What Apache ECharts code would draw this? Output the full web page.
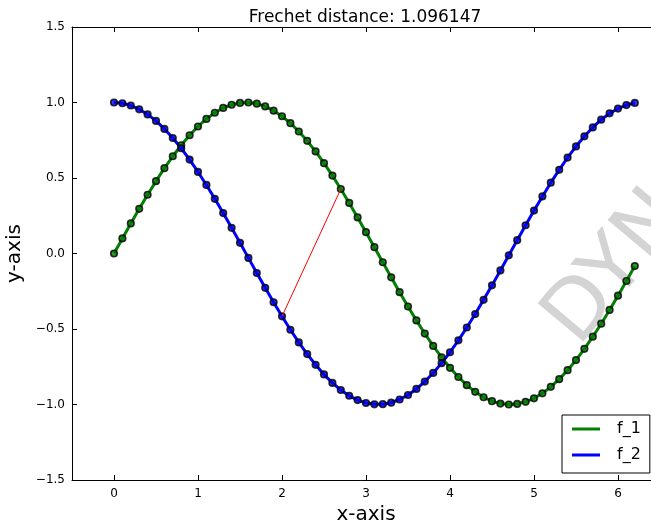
<!DOCTYPE html>
<html>
<head>
<meta charset="utf-8">
<script src="https://cdn.jsdelivr.net/npm/echarts@6/dist/echarts.min.js"></script>
<style>
html,body{margin:0;padding:0;background:#fff;}
#chart{width:651px;height:524px;}
</style>
</head>
<body>
<div id="chart"></div>
<script>
// ---- data ----
const xValues = [0.0,0.1,0.2,0.3,0.4,0.5,0.6,0.7,0.8,0.9,1.0,1.1,1.2,1.3,1.4,1.5,1.6,1.7,1.8,1.9,2.0,2.1,2.2,2.3,2.4,2.5,2.6,2.7,2.8,2.9,3.0,3.1,3.2,3.3,3.4,3.5,3.6,3.7,3.8,3.9,4.0,4.1,4.2,4.3,4.4,4.5,4.6,4.7,4.8,4.9,5.0,5.1,5.2,5.3,5.4,5.5,5.6,5.7,5.8,5.9,6.0,6.1,6.2];
const f1Values = [0.000,0.100,0.199,0.296,0.389,0.479,0.565,0.644,0.717,0.783,0.841,0.891,0.932,0.964,0.985,0.997,1.000,0.992,0.974,0.946,0.909,0.863,0.808,0.746,0.676,0.598,0.516,0.427,0.335,0.239,0.141,0.042,-0.058,-0.158,-0.256,-0.351,-0.443,-0.530,-0.612,-0.688,-0.757,-0.818,-0.872,-0.916,-0.952,-0.978,-0.994,-1.000,-0.996,-0.982,-0.959,-0.926,-0.883,-0.832,-0.773,-0.706,-0.631,-0.551,-0.465,-0.374,-0.279,-0.182,-0.083];
const f2Values = [1.000,0.995,0.980,0.955,0.921,0.878,0.825,0.765,0.697,0.622,0.540,0.454,0.362,0.268,0.170,0.071,-0.029,-0.129,-0.227,-0.323,-0.416,-0.505,-0.589,-0.666,-0.737,-0.801,-0.857,-0.904,-0.942,-0.971,-0.990,-0.999,-0.998,-0.988,-0.967,-0.937,-0.897,-0.848,-0.791,-0.726,-0.654,-0.575,-0.490,-0.401,-0.307,-0.211,-0.112,-0.012,0.088,0.187,0.284,0.378,0.469,0.554,0.635,0.709,0.776,0.835,0.886,0.928,0.960,0.983,0.997];
const linkX = [2.0, 2.7];
const linkY = [-0.416, 0.427];
const xTicks = [0,1,2,3,4,5,6];
const seriesNames = ['f_1','f_2'];
const seriesColors = ['#008000','#0000ff'];
const titleText = 'Frechet distance: 1.096147';
const watermarkText = 'DYNAMIC';

const zip = (xs, ys) => xs.map((x, i) => [x, ys[i]]);
const FONT = 'DejaVu Sans';
const fmtY = v => v.toFixed(1).replace('-', '\u2212');

const chart = echarts.init(document.getElementById('chart'), null, {renderer:'canvas'});
const axisLineStyle = {color:'#000', width:1};

function lineSeries(name, ys, color) {
  return [
    {name:name, type:'line', data:zip(xValues, ys), color:color,
     showSymbol:false, symbol:'none', lineStyle:{width:3, color:color}, z:2},
    {name:name + '_pts', type:'scatter', data:zip(xValues, ys), symbol:'circle', symbolSize:6.5,
     itemStyle:{color:color, borderColor:'#000', borderWidth:1.7}, z:3}
  ];
}

const option = {
  animation:false,
  backgroundColor:'#fff',
  textStyle:{fontFamily:FONT},
  title:{
    text:titleText, left:360, top:4, textAlign:'center',
    textStyle:{fontFamily:FONT, fontSize:17, fontWeight:'normal', color:'#000'}
  },
  grid:{left:72, top:27, width:588, height:453, containLabel:false, outerBoundsMode:'none'},
  xAxis:[{
    type:'value', min:-0.5, max:6.5, position:'bottom',
    axisLine:{show:true, onZero:false, lineStyle:axisLineStyle},
    axisTick:{show:true, inside:true, length:5, customValues:xTicks, lineStyle:axisLineStyle},
    axisLabel:{show:true, customValues:xTicks, fontFamily:FONT, fontSize:12, color:'#000', margin:8},
    splitLine:{show:false},
    name:'x-axis', nameLocation:'middle', nameGap:24,
    nameTextStyle:{fontFamily:FONT, fontSize:20, color:'#000'}
  },{
    type:'value', min:-0.5, max:6.5, position:'top',
    axisLine:{show:true, onZero:false, lineStyle:axisLineStyle},
    axisTick:{show:true, inside:true, length:5, customValues:xTicks, lineStyle:axisLineStyle},
    axisLabel:{show:false},
    splitLine:{show:false}
  }],
  yAxis:[{
    type:'value', min:-1.5, max:1.5, interval:0.5, position:'left',
    axisLine:{show:true, onZero:false, lineStyle:axisLineStyle},
    axisTick:{show:true, inside:true, length:5, lineStyle:axisLineStyle},
    axisLabel:{show:true, fontFamily:FONT, fontSize:12, color:'#000', margin:7, formatter:fmtY},
    splitLine:{show:false},
    name:'y-axis', nameLocation:'middle', nameGap:40,
    nameTextStyle:{fontFamily:FONT, fontSize:20, color:'#000'}
  }],
  legend:{
    orient:'vertical', left:562, top:415,
    data:seriesNames.map((n, i) => ({name:n, itemStyle:{color:seriesColors[i]}})),
    icon:'rect', itemWidth:28, itemHeight:3, itemGap:8,
    padding:[5,9,9,10],
    borderColor:'#000', borderWidth:1, backgroundColor:'#fff',
    textStyle:{fontFamily:FONT, fontSize:16, color:'#000', lineHeight:18, padding:[0,0,0,12]}
  },
  graphic:[{
    type:'text', x:562, y:334, rotation:50*Math.PI/180, z:-10, silent:true,
    style:{text:watermarkText, fontFamily:FONT, fontSize:82, fill:'#d4d4d4', align:'left', verticalAlign:'middle'}
  }],
  series:[
    ...lineSeries(seriesNames[0], f1Values, seriesColors[0]),
    ...lineSeries(seriesNames[1], f2Values, seriesColors[1]),
    {name:'link', type:'line', data:zip(linkX,linkY), symbol:'none', showSymbol:false,
     lineStyle:{width:1, color:'#ff0000'}, color:'#ff0000', z:4}
  ]
};
chart.setOption(option);
</script>
</body>
</html>
